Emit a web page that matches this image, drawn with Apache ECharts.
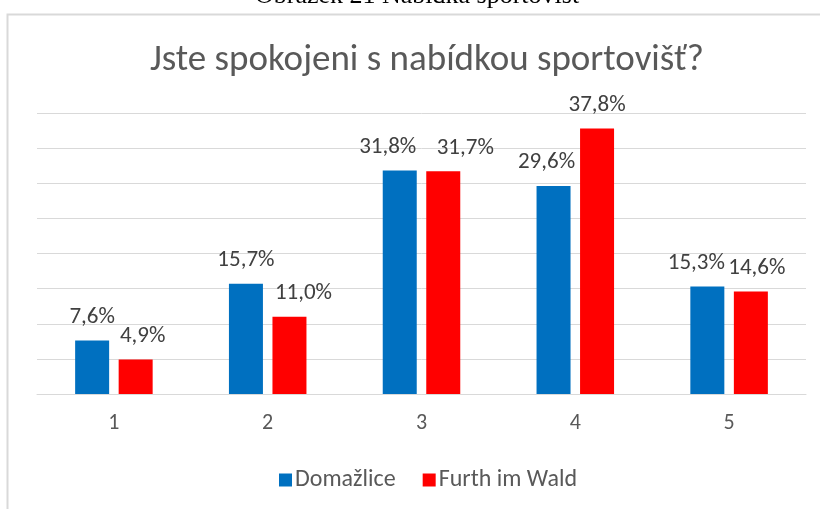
<!DOCTYPE html>
<html>
<head>
<meta charset="utf-8">
<script src="https://cdn.jsdelivr.net/npm/echarts@6/dist/echarts.min.js"></script>
<style>
  html, body { margin: 0; padding: 0; background: #fff; }
  #chart { width: 820px; height: 509px; }
</style>
</head>
<body>
<div id="chart"></div>
<script>
// data
const categories = ["1", "2", "3", "4", "5"];
const domazlice = [7.6, 15.7, 31.8, 29.6, 15.3];
const furth = [4.9, 11.0, 31.7, 37.8, 14.6];
const seriesNames = ["Domažlice", "Furth im Wald"];

// label nudges, like Excel moved them to avoid overlap
const domShift = [0, 0, -12, -7, -11];
const furShift = [7, 14, 22, 0, 6];

const FONT = "Carlito, Lato, 'Open Sans', sans-serif";

function withShift(values, shifts) {
  return values.map((v, i) => ({
    value: v,
    label: { offset: [shifts[i], 0] }
  }));
}

const chart = echarts.init(document.getElementById("chart"));

const barLabel = {
  show: true,
  position: "top",
  distance: 12,
  color: "#404040",
  fontSize: 23,
  fontFamily: FONT,
  formatter: p => p.value.toFixed(1).replace(".", ",") + "%"
};

const option = {
  animation: false,
  backgroundColor: "#fff",
  textStyle: { fontFamily: FONT },
  title: {
    text: "Jste spokojeni s nabídkou sportovišť?",
    left: 145,
    top: 37,
    textStyle: {
      fontFamily: FONT,
      fontSize: 37,
      fontWeight: "normal",
      color: "#595959"
    }
  },
  legend: {
    data: seriesNames,
    bottom: 12,
    left: 274,
    itemWidth: 13,
    itemHeight: 13,
    itemGap: 27,
    icon: "rect",
    textStyle: { fontFamily: FONT, fontSize: 24, color: "#595959", padding: [0, 0, 0, -2] }
  },
  grid: { left: 37, right: 14, top: 113, bottom: 115 },
  xAxis: {
    type: "category",
    data: categories,
    axisTick: { show: false },
    axisLine: { show: true, lineStyle: { color: "#d9d9d9", width: 1 } },
    axisLabel: { color: "#595959", fontSize: 22, margin: 18, fontFamily: FONT }
  },
  yAxis: {
    type: "value",
    min: 0,
    max: 40,
    interval: 5,
    axisLabel: { show: false },
    axisLine: { show: false },
    axisTick: { show: false },
    splitLine: { lineStyle: { color: "#d9d9d9", width: 1 } }
  },
  series: [
    {
      name: seriesNames[0],
      type: "bar",
      data: withShift(domazlice, domShift),
      barWidth: 34,
      barGap: "28%",
      itemStyle: { color: "#0070C0" },
      label: barLabel
    },
    {
      name: seriesNames[1],
      type: "bar",
      data: withShift(furth, furShift),
      barWidth: 34,
      barGap: "28%",
      itemStyle: { color: "#FF0000" },
      label: barLabel
    }
  ],
  graphic: [
    {
      type: "polyline",
      silent: true,
      shape: { points: [[7.5, 509], [7.5, 14.5], [820, 14.5]] },
      style: { stroke: "#d9d9d9", lineWidth: 2, fill: null }
    },
    {
      type: "text",
      silent: true,
      x: 419,
      y: -17,
      style: {
        text: "Obrázek 21 Nabídka sportovišť",
        font: "26px 'Liberation Serif', 'DejaVu Serif', serif",
        fill: "#000",
        align: "center"
      }
    }
  ]
};

chart.setOption(option);
</script>
</body>
</html>
